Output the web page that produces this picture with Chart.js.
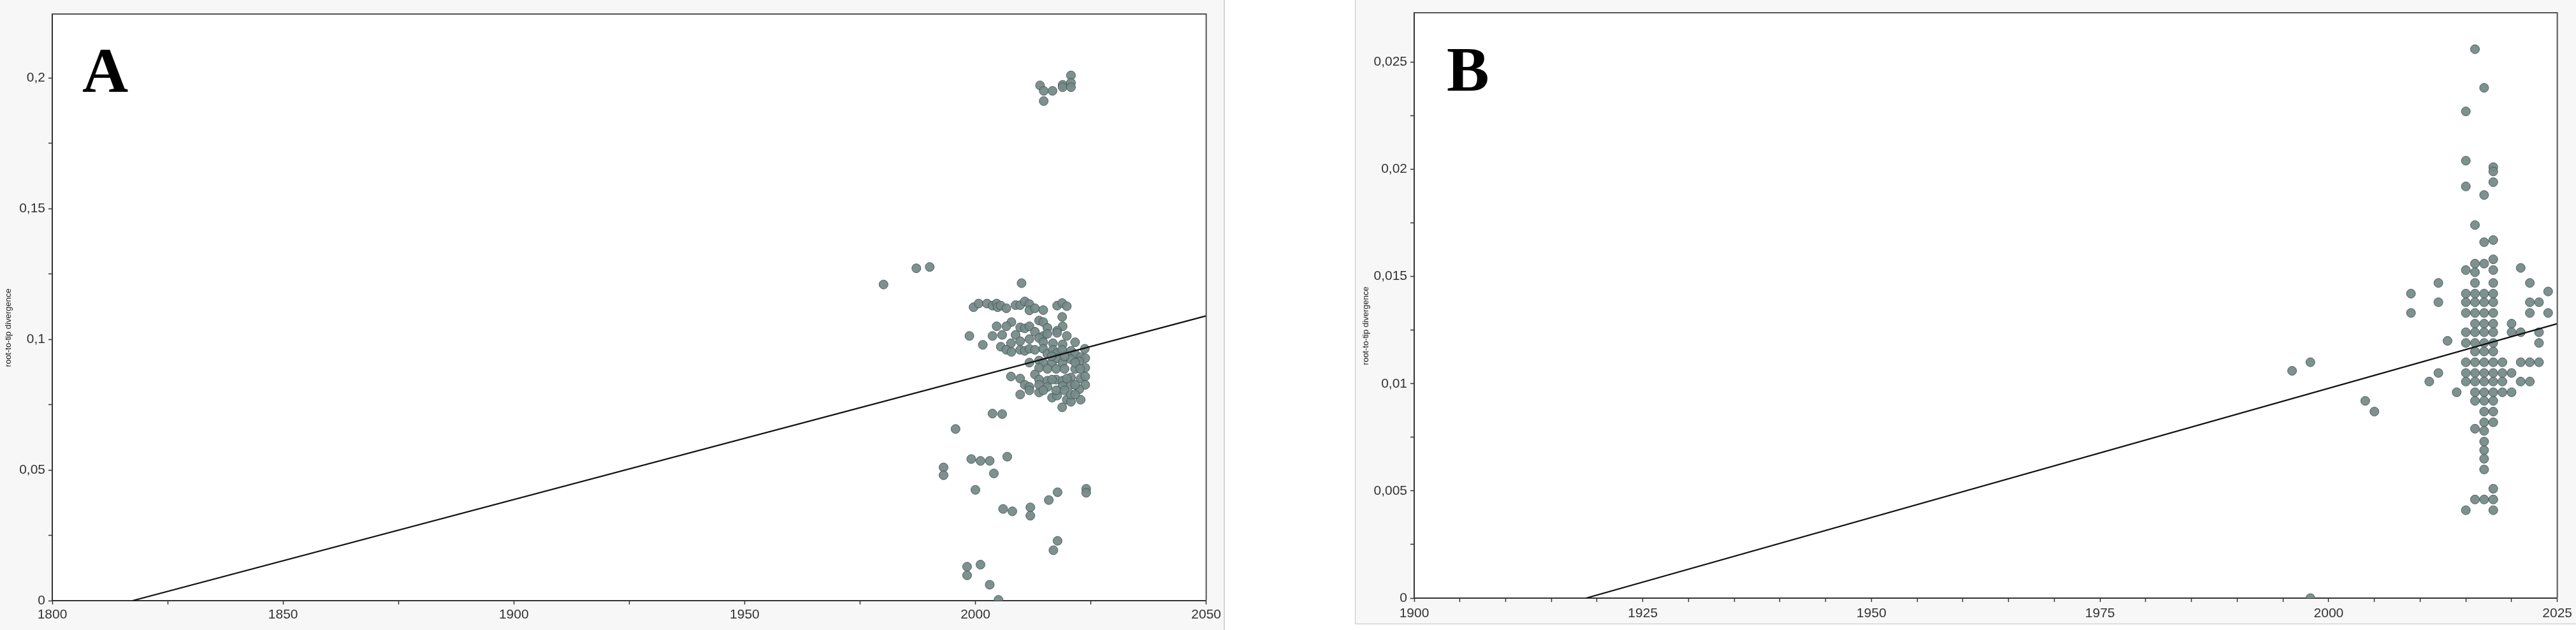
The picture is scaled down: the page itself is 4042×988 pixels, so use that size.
<!DOCTYPE html>
<html>
<head>
<meta charset="utf-8">
<script src="https://cdn.jsdelivr.net/npm/chart.js@4.4.0/dist/chart.umd.min.js"></script>
<style>
  body { margin:0; width:4042px; height:988px; background:#fff; position:relative; overflow:hidden; }
  #boxA { position:absolute; left:0; top:0; width:1920px; height:988px; background:#f7f7f7; border-right:2px solid #d4d4d4; }
  #boxB { position:absolute; left:2126px; top:-2px; width:1930px; height:979px; background:#f7f7f7; border:1px solid #c4c4c4; }
  canvas { position:absolute; }
  #chartA { left:0; top:0; }
  #chartB { left:2127px; top:0; }
</style>
</head>
<body>
<div id="boxA"></div>
<div id="boxB"></div>
<canvas id="chartA" width="1920" height="988"></canvas>
<canvas id="chartB" width="1915" height="978"></canvas>
<script>
// ---- panel A : sampling year vs root-to-tip divergence ----
const yearsA = [
  2014.0, 2014.8, 2014.8, 2016.7, 2018.9, 2018.9, 2020.7, 2020.7, 2020.7,
  1980.1, 1987.2, 1990.1, 2010.0,
  1999.6, 2000.7, 2002.5, 2003.7, 2004.6, 2004.8, 2005.5, 2006.7, 2008.7, 2009.7,
  2010.7, 2011.7, 2011.7, 2012.9, 2014.7, 2017.7, 2018.8, 2019.8, 2018.8,
  2013.8, 2014.7, 2015.6, 2018.9, 2017.7, 2007.8, 2006.7, 2004.6,
  2003.7, 2005.8, 2008.7, 2009.7, 2010.7, 2011.7, 2012.9, 2014.7, 2015.6, 2017.7, 2019.8,
  2021.6, 2007.7, 2009.7, 2011.7, 2013.8, 2014.7, 2016.8, 2018.9,
  2005.5, 2006.7, 2007.8, 2009.7, 2010.7, 2011.7, 2012.9, 2014.7, 2015.6, 2016.8, 2017.7,
  2018.8, 2020.7, 2023.7, 2021.6, 2022.8, 2023.8,
  2011.7, 2013.8, 2014.7, 2016.6, 2017.7, 2018.9, 2020.7, 2022.5, 2023.8,
  2013.8, 2015.6, 2017.5, 2019.3, 2021.6,
  2007.7, 2009.7, 2010.7, 2011.7, 2012.9, 2013.8, 2015.6, 2017.5, 2018.9, 2020.7, 2022.8, 2023.8,
  2023.8, 2015.6, 2018.9, 2020.7, 2022.5,
  2009.7, 2011.7, 2013.8, 2016.6, 2017.7, 2019.8, 2020.7, 2022.8, 2018.8,
  2016.5, 2019.3, 2021.6, 2022.7, 2019.8, 2016.6, 2017.5, 2019.3, 2021.6, 2013.8, 2014.7, 2020.7, 2021.6,
  2003.7, 2005.8, 1995.7, 1998.7, 2001.6,
  2006.9, 1999.1, 2001.1, 2003.1, 1993.1, 1993.1, 2004.0, 2000.0,
  2017.8, 2024.0, 2024.0, 2015.9, 2006.0, 2008.0, 2011.9, 2011.9,
  2017.8, 2016.9, 1998.2, 1998.2, 2001.1, 2003.1, 2005.0
];
const divA = [
  0.1972, 0.1951, 0.1912, 0.1951, 0.1974, 0.1965, 0.2010, 0.1982, 0.1965,
  0.1210, 0.1272, 0.1277, 0.1215,
  0.1123, 0.1137, 0.1137, 0.1129, 0.1137, 0.1123, 0.1129, 0.1119, 0.1131, 0.1131,
  0.1145, 0.1135, 0.1111, 0.1119, 0.1112, 0.1129, 0.1139, 0.1127, 0.1086,
  0.1072, 0.1066, 0.1044, 0.1050, 0.1033, 0.1066, 0.1050, 0.1050,
  0.1013, 0.1017, 0.1017, 0.1046, 0.1042, 0.1050, 0.1029, 0.1013, 0.1021, 0.1025, 0.1013,
  0.0989, 0.0985, 0.0993, 0.1001, 0.1005, 0.0989, 0.0985, 0.0981,
  0.0972, 0.0960, 0.0952, 0.0960, 0.0956, 0.0964, 0.0960, 0.0964, 0.0944, 0.0960, 0.0948,
  0.0960, 0.0956, 0.0964, 0.0944, 0.0932, 0.0928,
  0.0911, 0.0919, 0.0911, 0.0911, 0.0928, 0.0911, 0.0924, 0.0915, 0.0891,
  0.0891, 0.0887, 0.0887, 0.0887, 0.0887,
  0.0858, 0.0850, 0.0826, 0.0818, 0.0866, 0.0846, 0.0842, 0.0846, 0.0842, 0.0854, 0.0850, 0.0858,
  0.0826, 0.0818, 0.0822, 0.0826, 0.0809,
  0.0789, 0.0805, 0.0797, 0.0777, 0.0785, 0.0769, 0.0761, 0.0769, 0.0740,
  0.0935, 0.0935, 0.0911, 0.0887, 0.0850, 0.0846, 0.0805, 0.0805, 0.0826, 0.0826, 0.0805, 0.0789, 0.0789,
  0.0716, 0.0714, 0.0657, 0.1013, 0.0979,
  0.0551, 0.0542, 0.0535, 0.0535, 0.0510, 0.0480, 0.0487, 0.0424,
  0.0415, 0.0428, 0.0413, 0.0385, 0.0351, 0.0342, 0.0357, 0.0325,
  0.0229, 0.0193, 0.0130, 0.0097, 0.0138, 0.0061, 0.0003
];
const fitYearsA = [1817.4, 2050];
const fitDivA = [0, 0.109];
const xTickValsA = [1800, 1850, 1900, 1950, 2000, 2050];
const xTickTextA = ['1800', '1850', '1900', '1950', '2000', '2050'];
const yTickValsA = [0, 0.05, 0.1, 0.15, 0.2];
const yTickTextA = ['0', '0,05', '0,1', '0,15', '0,2'];

// ---- panel B ----
const yearsB = [
  1996, 1998, 1998, 2004, 2005, 2009, 2009, 2011, 2012, 2012, 2012, 2013, 2014,
  2015, 2015, 2015, 2015, 2015, 2015, 2015, 2015, 2015, 2015, 2015, 2015, 2015,
  2016, 2016, 2016, 2016, 2016, 2016, 2016, 2016, 2016, 2016, 2016, 2016, 2016, 2016, 2016, 2016, 2016, 2016, 2016,
  2017, 2017, 2017, 2017, 2017, 2017, 2017, 2017, 2017, 2017, 2017, 2017, 2017, 2017, 2017, 2017, 2017, 2017, 2017, 2017, 2017, 2017, 2017, 2017,
  2018, 2018, 2018, 2018, 2018, 2018, 2018, 2018, 2018, 2018, 2018, 2018, 2018, 2018, 2018, 2018, 2018, 2018, 2018, 2018, 2018, 2018, 2018, 2018,
  2019, 2019, 2019, 2019,
  2020, 2020, 2020, 2020,
  2021, 2021, 2021, 2021,
  2022, 2022, 2022, 2022, 2022,
  2023, 2023, 2023, 2023,
  2024, 2024
];
const divB = [
  0.0106, 0.0110, 0.0000, 0.0092, 0.0087, 0.0142, 0.0133, 0.0101, 0.0147, 0.0138, 0.0105, 0.0120, 0.0096,
  0.0227, 0.0204, 0.0192, 0.0153, 0.0142, 0.0138, 0.0133, 0.0124, 0.0119, 0.0110, 0.0105, 0.0101, 0.0041,
  0.0256, 0.0174, 0.0156, 0.0152, 0.0147, 0.0142, 0.0138, 0.0133, 0.0128, 0.0124, 0.0119, 0.0115, 0.0110, 0.0105, 0.0101, 0.0096, 0.0092, 0.0079, 0.0046,
  0.0238, 0.0188, 0.0166, 0.0156, 0.0142, 0.0138, 0.0133, 0.0128, 0.0124, 0.0119, 0.0115, 0.0110, 0.0105, 0.0101, 0.0096, 0.0092, 0.0087, 0.0082, 0.0078, 0.0073, 0.0069, 0.0065, 0.0060, 0.0046,
  0.0201, 0.0199, 0.0194, 0.0167, 0.0158, 0.0153, 0.0147, 0.0142, 0.0138, 0.0133, 0.0128, 0.0124, 0.0119, 0.0115, 0.0110, 0.0105, 0.0101, 0.0096, 0.0092, 0.0087, 0.0082, 0.0051, 0.0046, 0.0041,
  0.0110, 0.0105, 0.0101, 0.0096,
  0.0128, 0.0124, 0.0105, 0.0096,
  0.0154, 0.0124, 0.0110, 0.0101,
  0.0147, 0.0138, 0.0133, 0.0110, 0.0101,
  0.0138, 0.0124, 0.0119, 0.0110,
  0.0143, 0.0133
];
const fitYearsB = [1918.8, 2025];
const fitDivB = [0, 0.0128];
const xTickValsB = [1900, 1925, 1950, 1975, 2000, 2025];
const xTickTextB = ['1900', '1925', '1950', '1975', '2000', '2025'];
const yTickValsB = [0, 0.005, 0.01, 0.015, 0.02, 0.025];
const yTickTextB = ['0', '0,005', '0,01', '0,015', '0,02', '0,025'];

const tickFont = { family: '"Liberation Sans", Arial, sans-serif', size: 21 };

// white plot area, frame, panel letter, rotated axis title
const panelDeco = {
  id: 'panelDeco',
  beforeDraw(chart) {
    const a = chart.chartArea, ctx = chart.ctx;
    ctx.save();
    ctx.fillStyle = '#fff';
    ctx.fillRect(a.left, a.top, a.right - a.left, a.bottom - a.top);
    ctx.restore();
  },
  afterDraw(chart, args, o) {
    const a = chart.chartArea, ctx = chart.ctx;
    ctx.save();
    ctx.strokeStyle = '#555';
    ctx.lineWidth = 2;
    ctx.beginPath();
    ctx.moveTo(a.left, a.top);
    ctx.lineTo(a.right, a.top);
    ctx.lineTo(a.right, a.bottom);
    ctx.stroke();
    ctx.fillStyle = '#000';
    ctx.font = 'bold 100px "Liberation Serif", "Times New Roman", serif';
    ctx.fillText(o.letter, a.left + o.letterDx, a.top + 122);
    ctx.translate(a.left - o.titleDx, (a.top + a.bottom) / 2 + 32);
    ctx.rotate(-Math.PI / 2);
    ctx.font = '13px "Liberation Sans Narrow", "Liberation Sans", Arial, sans-serif';
    ctx.textAlign = 'center';
    ctx.textBaseline = 'middle';
    ctx.fillStyle = '#222';
    ctx.fillText(o.title, 0, 0);
    ctx.restore();
  }
};

function toPoints(xs, ys) {
  return xs.map((x, i) => ({ x: x, y: ys[i] }));
}

function stepTicks(min, max, step) {
  const t = [];
  for (let v = min; v <= max + step * 1e-6; v += step) t.push({ value: +v.toFixed(6) });
  return t;
}

function labelFrom(vals, texts) {
  return function (v) {
    const i = vals.findIndex(t => Math.abs(t - v) < 1e-9);
    return i < 0 ? '' : texts[i];
  };
}

function makeChart(id, p) {
  return new Chart(document.getElementById(id), {
    type: 'scatter',
    data: {
      datasets: [{
        data: toPoints(p.fitX, p.fitY),
        showLine: true,
        borderColor: '#111',
        borderWidth: 2.2,
        pointRadius: 0,
        order: 0
      }, {
        data: toPoints(p.xs, p.ys),
        pointRadius: 7,
        pointBackgroundColor: 'rgba(118,139,137,0.95)',
        pointBorderColor: 'rgba(70,86,86,0.9)',
        pointBorderWidth: 1,
        clip: 0,
        order: 1
      }]
    },
    options: {
      responsive: false,
      animation: false,
      events: [],
      layout: { padding: { left: 0, top: p.padTop, right: p.padRight, bottom: 0 } },
      plugins: {
        legend: { display: false },
        tooltip: { enabled: false },
        panelDeco: { letter: p.letter, letterDx: p.letterDx, titleDx: p.titleDx, title: 'root-to-tip divergence' }
      },
      scales: {
        x: {
          type: 'linear',
          min: p.xMin, max: p.xMax,
          afterBuildTicks: s => { s.ticks = stepTicks(p.xMin, p.xMax, p.xMinor); },
          afterFit: s => { s.height = p.xHeight; },
          grid: { drawOnChartArea: false, drawTicks: true, tickLength: 6, tickColor: '#333', tickWidth: 1.5 },
          border: { display: true, color: '#333', width: 2 },
          ticks: { autoSkip: false, maxRotation: 0, padding: p.xPad, color: '#333', font: tickFont,
                   callback: labelFrom(p.xTickVals, p.xTickText) }
        },
        y: {
          type: 'linear',
          min: 0, max: p.yMax,
          afterBuildTicks: s => { s.ticks = stepTicks(0, p.yMax, p.yMinor); },
          afterFit: s => { s.width = p.yWidth; },
          grid: { drawOnChartArea: false, drawTicks: true, tickLength: 6, tickColor: '#333', tickWidth: 1.5 },
          border: { display: true, color: '#333', width: 2 },
          ticks: { autoSkip: false, padding: 5, color: '#333', font: tickFont,
                   callback: labelFrom(p.yTickVals, p.yTickText) }
        }
      }
    },
    plugins: [panelDeco]
  });
}

makeChart('chartA', {
  xs: yearsA, ys: divA, fitX: fitYearsA, fitY: fitDivA,
  xMin: 1800, xMax: 2050, xMinor: 25, yMax: 0.2245, yMinor: 0.025,
  xTickVals: xTickValsA, xTickText: xTickTextA, yTickVals: yTickValsA, yTickText: yTickTextA,
  padTop: 22, padRight: 24, yWidth: 82, xHeight: 46, xPad: 4,
  letter: 'A', letterDx: 47, titleDx: 69
});

makeChart('chartB', {
  xs: yearsB, ys: divB, fitX: fitYearsB, fitY: fitDivB,
  xMin: 1900, xMax: 2025, xMinor: 5, yMax: 0.0273, yMinor: 0.0025,
  xTickVals: xTickValsB, xTickText: xTickTextB, yTickVals: yTickValsB, yTickText: yTickTextB,
  padTop: 20, padRight: 27, yWidth: 92, xHeight: 40, xPad: 6,
  letter: 'B', letterDx: 51, titleDx: 76
});
</script>
</body>
</html>
